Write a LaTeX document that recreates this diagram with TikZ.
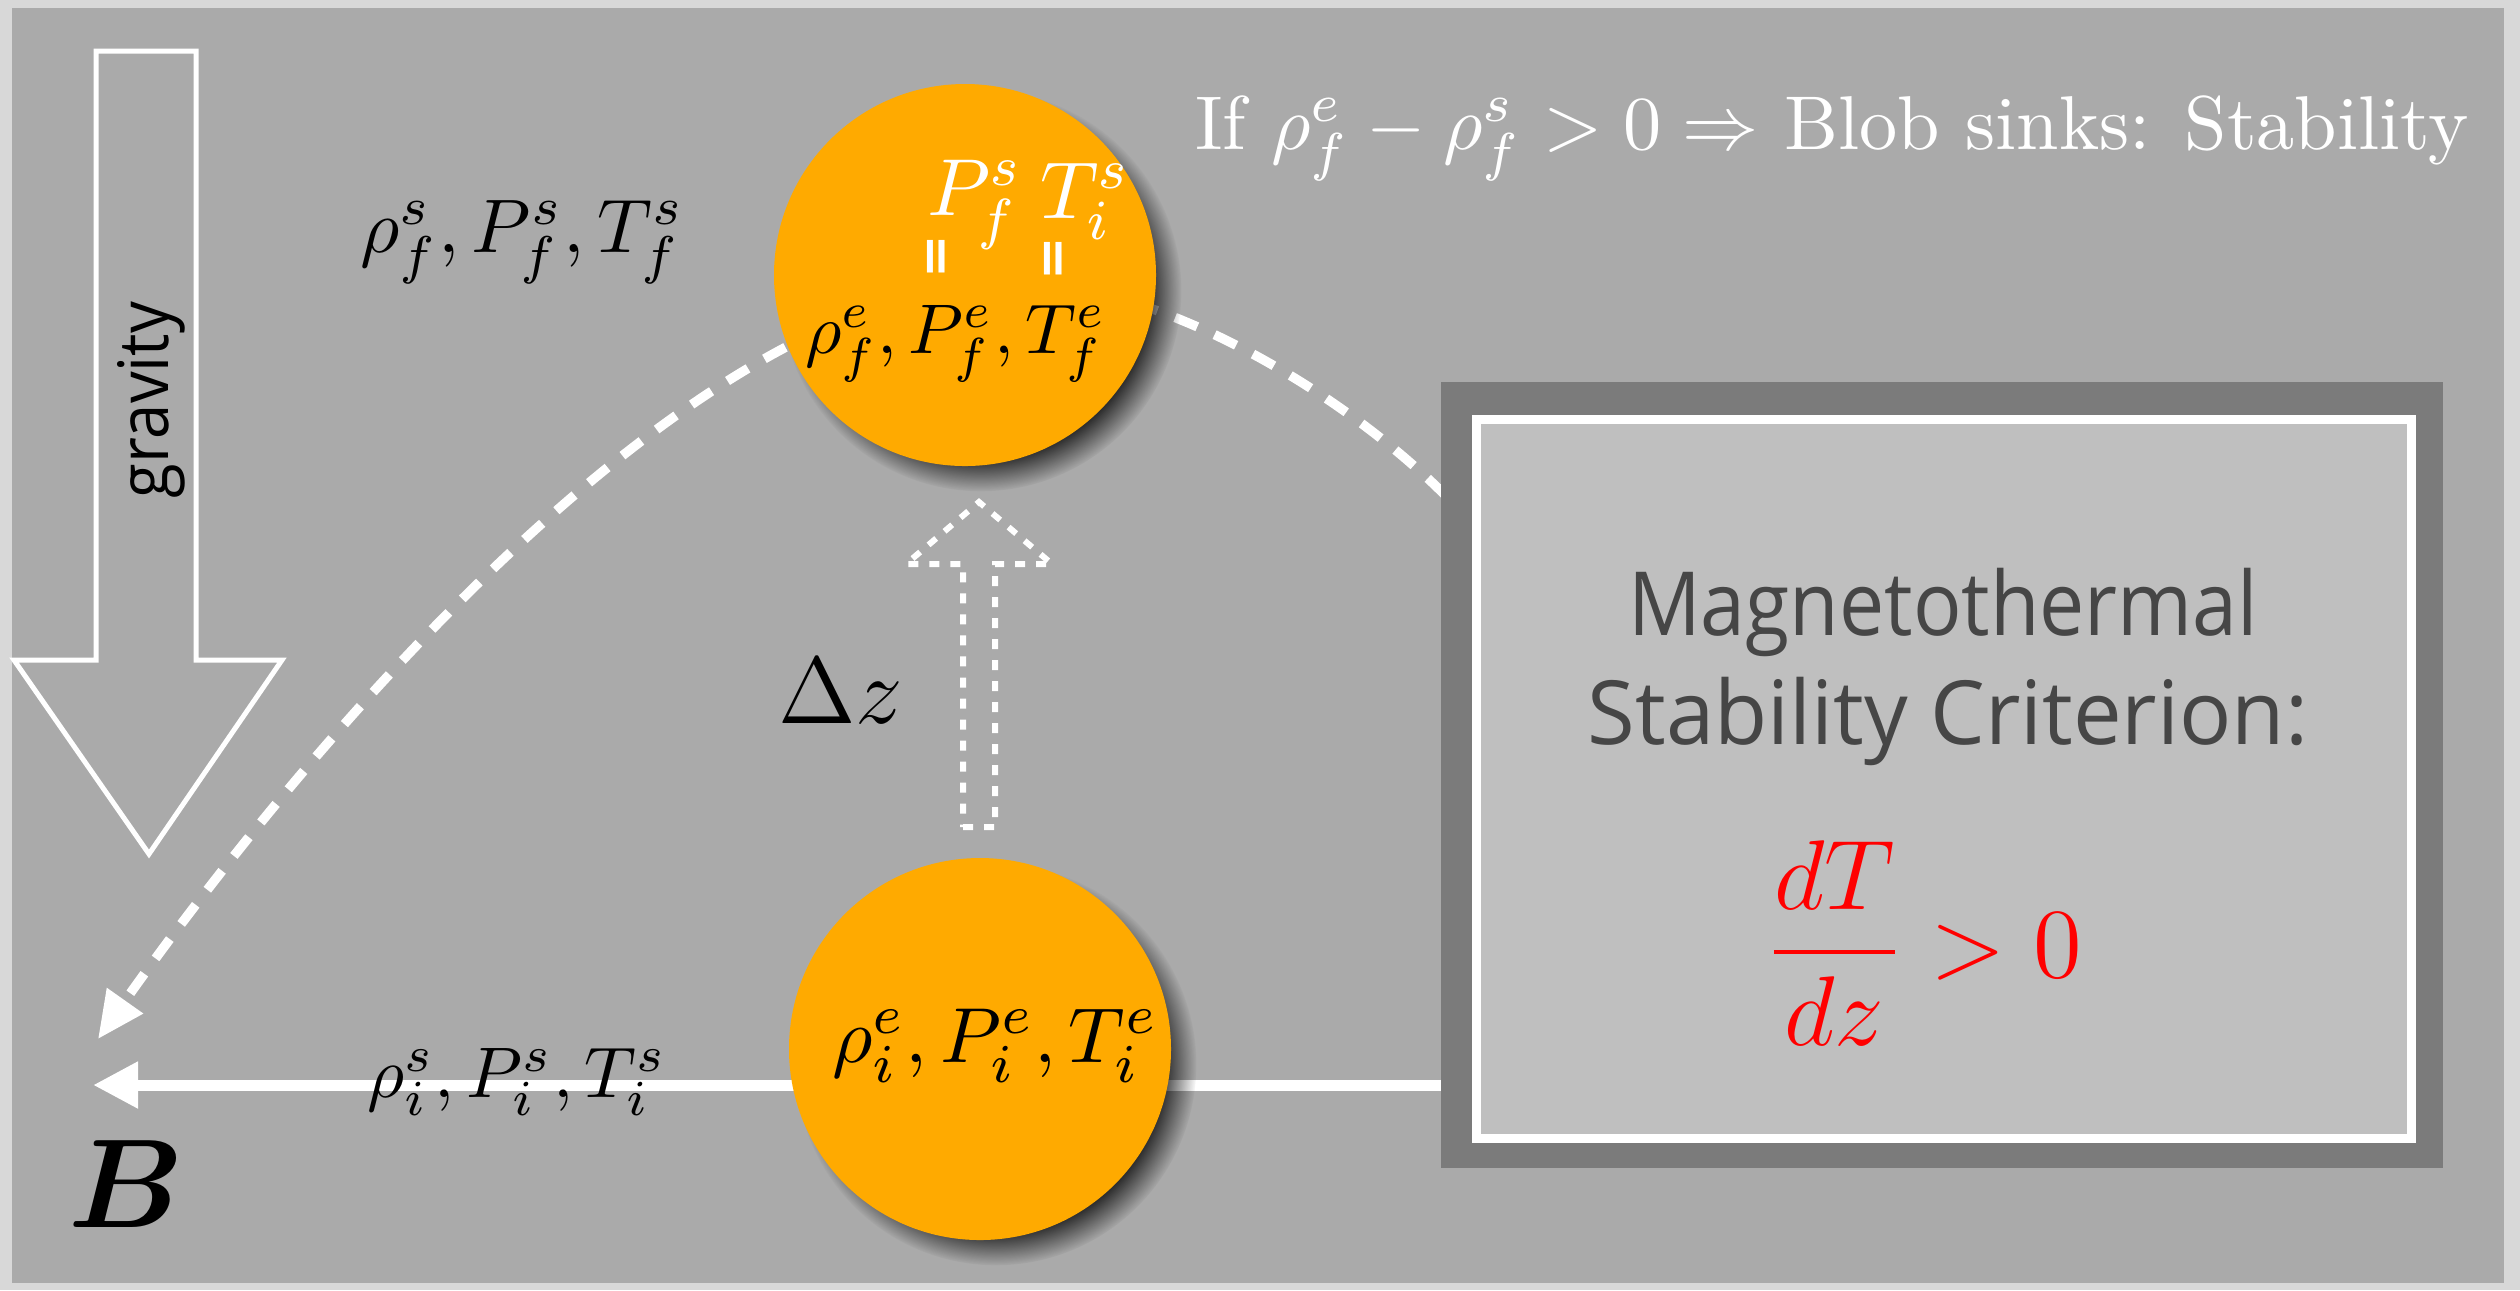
\RequirePackage{fix-cm}
\documentclass[tikz,border=0pt]{standalone}
\usepackage{fontspec}
\usepackage{amsmath,bm}
\newfontfamily\gillsans[FakeStretch=0.91]{Open Sans}
\newfontfamily\gillsanswide[FakeStretch=0.98]{Open Sans}
\newfontfamily\djv{DejaVu Sans}
\usetikzlibrary{arrows.meta,shadows,fadings}
\newcommand\setfs[1]{\fontsize{#1pt}{#1pt}\selectfont}
\definecolor{bgouter}{RGB}{216,216,216}
\definecolor{bgmain}{RGB}{170,170,170}
\definecolor{boxdark}{RGB}{123,123,123}
\definecolor{boxlight}{RGB}{191,191,191}
\definecolor{txtdark}{RGB}{70,70,70}
\definecolor{blobcol}{RGB}{255,170,0}
\tikzset{
  lbl/.style={inner sep=0pt, outer sep=0pt},
  blobstyle/.style={circle, fill=blobcol, minimum size=19.1mm, inner sep=0pt,
    circular drop shadow={shadow xshift=0.75mm, shadow yshift=-0.75mm, shadow scale=1.05, opacity=0.9, fill=black,
      path fading=circle with fuzzy edge 20 percent}},
  gravline/.style={draw=white, line width=0.25mm, line join=miter},
  bigdash/.style={draw=white, line width=0.47mm, dash pattern=on 1.2mm off 0.95mm},
  updash/.style={draw=white, line width=0.3mm, dash pattern=on 0.5mm off 0.55mm},
  fieldline/.style={draw=white, line width=0.55mm}
}
\begin{document}
\begin{tikzpicture}[x=0.05mm,y=-0.05mm]
\useasboundingbox (0,0) rectangle (2520,1290);
\fill[bgouter] (0,0) rectangle (2520,1290);
\fill[bgmain] (12,8) rectangle (2504,1283);

% gravity arrow
\draw[gravline] (96,51) -- (196,51) -- (196,660) -- (282,660) -- (149,854) -- (14,660) -- (96,660) -- cycle;
\node[lbl, rotate=90, anchor=base, font=\gillsans\setfs{9.9}] (grav) at (168,400) {gravity};

% dashed trajectory
\coordinate (arcR) at (1445,495);
\coordinate (peak) at (1012,282);
\coordinate (arcEnd) at (98,1039);
\draw[bigdash, -{Triangle[length=2.35mm,width=2.1mm]}] (arcR) .. controls (1345,395) and (1162,282) .. (peak) .. controls (682,282) and (278,784) .. (arcEnd);

% field line
\coordinate (lineR) at (1441,1085);
\coordinate (Btip) at (93,1085);
\draw[fieldline, -{Triangle[length=2.25mm,width=2.2mm]}] (lineR) -- (Btip);

% box
\fill[boxdark] (1441,382) rectangle (2443,1168);
\draw[draw=white, line width=0.45mm, fill=boxlight] (1476,419) rectangle (2411,1138);
\node[lbl, anchor=base, text=txtdark, font=\gillsans\setfs{12.6}] (mt1) at (1943,635) {Magnetothermal};
\node[lbl, anchor=base, text=txtdark, font=\gillsanswide\setfs{12.6}] (mt2) at (1948,744) {Stability Criterion:};
\node[lbl, anchor=base, text=red, font=\setfs{14.1}] (crit) at (1924,977) {$\displaystyle\frac{dT}{dz} > 0$};

% blobs
\node[blobstyle] (topblob) at (965,275) {};
\node[blobstyle] (botblob) at (980,1049) {};

% displacement arrow
\draw[updash] (963,827) -- (995,827) -- (995,564) -- (1052,564) -- (979,502) -- (906,564) -- (963,564) -- cycle;

% labels
\node[lbl, anchor=base west, font=\setfs{10.8}] (sf) at (360,252) {$\rho_f^s, P_f^s, T_f^s$};
\node[lbl, anchor=base west, font=\setfs{10}] (ef) at (805,353) {$\rho_f^e, P_f^e, T_f^e$};
\node[lbl, anchor=base west, text=white, font=\setfs{11.5}] (wP) at (927,215) {$P_f^s$};
\node[lbl, anchor=base west, text=white, font=\setfs{11.5}] (wT) at (1040,218) {$T_i^s$};
\node[lbl, rotate=90, text=white, font=\djv\bfseries\setfs{7.4}] (eq1) at (940,257) {=};
\node[lbl, rotate=90, text=white, font=\djv\bfseries\setfs{7.4}] (eq2) at (1057,259) {=};
\node[lbl, anchor=base west, text=white, font=\setfs{10.85}] (cond) at (1195,149) {If $\rho_f^e - \rho_f^s > 0 \Rightarrow$ Blob sinks: Stability};
\node[lbl, anchor=base west, font=\setfs{13.5}] (dz) at (778,723) {$\Delta z$};
\node[lbl, anchor=base west, font=\setfs{10.2}] (si) at (367,1097) {$\rho_i^s, P_i^s, T_i^s$};
\node[lbl, anchor=base west, font=\setfs{11.1}] (ei) at (832,1062) {$\rho_i^e, P_i^e, T_i^e$};
\node[lbl, anchor=base west, font=\setfs{18}] (Blab) at (69,1227) {$\bm{B}$};
\end{tikzpicture}
\end{document}
